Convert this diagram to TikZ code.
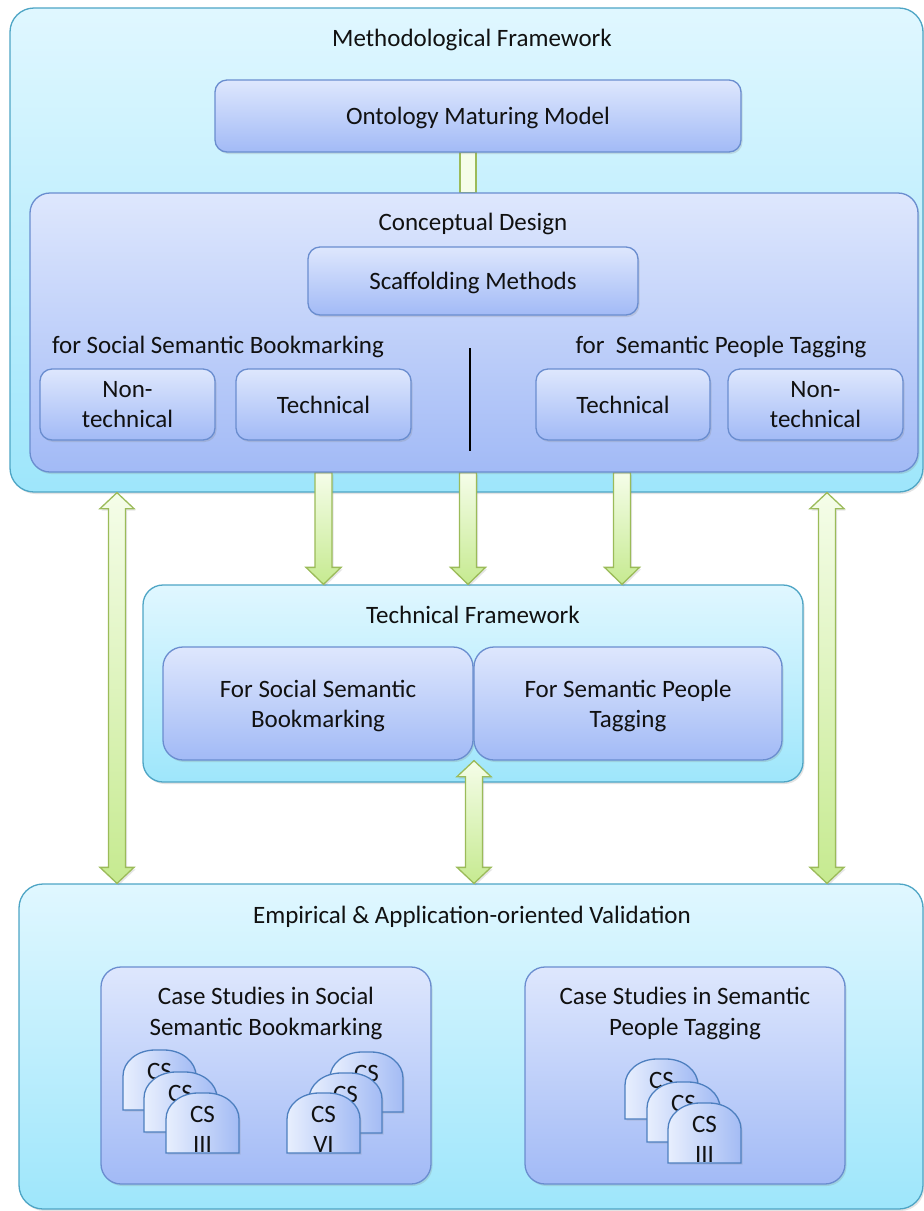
\documentclass[tikz,border=0pt]{standalone}
\usepackage{fontspec}
\setmainfont{Carlito}
\usetikzlibrary{calc,shadows}

\definecolor{cyanTop}{HTML}{E0F7FF}
\definecolor{cyanBot}{HTML}{9EE6FB}
\definecolor{cyanLine}{HTML}{4EA5C5}
\definecolor{blueTop}{HTML}{DEE7FD}
\definecolor{blueBot}{HTML}{A2BAF6}
\definecolor{blueLine}{HTML}{6A8DCF}
\definecolor{tombLeft}{HTML}{E8EFFE}
\definecolor{tombRight}{HTML}{A3BBF4}
\definecolor{tombLine}{HTML}{4D7FBF}
\definecolor{greenTop}{HTML}{F5FDE9}
\definecolor{greenBot}{HTML}{C6EA90}
\definecolor{greenLine}{HTML}{9BBB59}
\definecolor{txt}{HTML}{111111}

\pgfdeclarelayer{bottom}
\pgfdeclarelayer{mid}
\pgfsetlayers{bottom,mid,main}

\newcommand\mainfs{\fontsize{25pt}{30.5pt}\selectfont}

\tikzset{
  base/.style={rectangle, inner sep=0pt, line width=1.3pt, align=center,
    drop shadow={opacity=0.22, shadow xshift=1.5pt, shadow yshift=-2pt}},
  cyanbox/.style={base, draw=cyanLine, top color=cyanTop, bottom color=cyanBot,
    rounded corners=#1},
  cyanbox/.default=24pt,
  bluebox/.style={base, draw=blueLine, top color=blueTop, bottom color=blueBot,
    rounded corners=#1},
  bluebox/.default=12pt,
  title/.style={inner sep=0pt, align=center},
  cstext/.style={inner sep=0pt},
  tombshape/.style={draw=tombLine, line width=1.3pt, left color=tombLeft,
    right color=tombRight,
    drop shadow={opacity=0.2, shadow xshift=1.5pt, shadow yshift=-1.5pt}},
  fatarrow/.style={draw=greenLine, line width=1.3pt, top color=greenTop,
    bottom color=greenBot, line join=miter,
    drop shadow={opacity=0.2, shadow xshift=1.5pt, shadow yshift=-2pt}},
  linkbar/.style={draw=greenLine, line width=1.3pt, fill=greenTop},
}

% single arrow pointing down from #1 to #2
\newcommand\fatdown[2]{%
  \path[fatarrow] let \p1=(#1), \p2=(#2) in
    (\x1-8.5pt,\y1) -- (\x1+8.5pt,\y1) -- (\x1+8.5pt,\y2+17pt)
    -- (\x1+17.5pt,\y2+17pt) -- (\x1,\y2) -- (\x1-17.5pt,\y2+17pt)
    -- (\x1-8.5pt,\y2+17pt) -- cycle;}

% double-headed vertical arrow between #1 (top) and #2 (bottom)
\newcommand\fatboth[2]{%
  \path[fatarrow] let \p1=(#1), \p2=(#2) in
    (\x1,\y1) -- (\x1+17pt,\y1-16pt) -- (\x1+8.5pt,\y1-16pt)
    -- (\x1+8.5pt,\y2+16pt) -- (\x1+17pt,\y2+16pt) -- (\x1,\y2)
    -- (\x1-17pt,\y2+16pt) -- (\x1-8.5pt,\y2+16pt)
    -- (\x1-8.5pt,\y1-16pt) -- (\x1-17pt,\y1-16pt) -- cycle;}

% case-study tombstone: #1,#2 top-left corner, #3 name, #4 and #5 the two lines
\newcommand\tomb[5]{%
  \path[tombshape] (#1,#2+60) -- (#1,#2+26)
    .. controls (#1,#2+11.6) and (#1+14.3,#2) .. (#1+32,#2) -- (#1+41,#2)
    .. controls (#1+58.7,#2) and (#1+73,#2+11.6) .. (#1+73,#2+26)
    -- (#1+73,#2+60) -- cycle;
  \node[cstext] (#3) at (#1+36.5,#2+21) {#4};
  \node[cstext] (#3b) at (#1+36.5,#2+51) {#5};}

\begin{document}
\begin{tikzpicture}[x=1pt,y=-1pt,every node/.append style={font=\mainfs,text=txt}]
\useasboundingbox (0,0) rectangle (924,1211);

% large frames
\begin{pgfonlayer}{bottom}
  \fill[white] (0,0) rectangle (924,1211);
  \node[cyanbox, minimum width=913pt, minimum height=484pt] (mf) at (466.5,250) {};
  \node[cyanbox=20pt, minimum width=660pt, minimum height=197pt] (tf) at (473,683.5) {};
  \node[cyanbox, minimum width=904pt, minimum height=325pt] (ev) at (471,1046.5) {};
\end{pgfonlayer}

% methodological framework
\node[title] (mft) at (472,40) {Methodological Framework};
\node[bluebox, minimum width=526pt, minimum height=72pt] (omm) at (478,116) {};
\node[title] (ommt) at ([yshift=-2pt]omm.center) {Ontology Maturing Model};
\node[bluebox=20pt, minimum width=888pt, minimum height=279pt] (cd) at (474,332.5) {};
\node[title] (cdt) at (473,224) {Conceptual Design};
\node[bluebox, minimum width=330pt, minimum height=68pt] (sm) at (473,281) {};
\node[title] (smt) at ([yshift=-2pt]sm.center) {Scaffolding Methods};
\node[title] (lsb) at (218,347) {for Social Semantic Bookmarking};
\node[title] (lpt) at (721,347) {for~~Semantic People Tagging};
\node[bluebox, minimum width=175pt, minimum height=71pt] (nt1) at (127.5,404.5) {Non-\\technical};
\node[bluebox, minimum width=175pt, minimum height=71pt] (t1) at (323.5,404.5) {Technical};
\node[bluebox, minimum width=174pt, minimum height=71pt] (t2) at (623,404.5) {Technical};
\node[bluebox, minimum width=175pt, minimum height=71pt] (nt2) at (815.5,404.5) {Non-\\technical};
\coordinate (sepa) at (470,348);
\coordinate (sepb) at (470,451);
\draw[line width=2.4pt, black] (sepa) -- (sepb);

% technical framework
\node[title] (tft) at (473,614.5) {Technical Framework};
\node[bluebox=20pt, minimum width=310pt, minimum height=113pt] (fb1) at (318,703.5) {};
\node[title] (fb1t) at ([yshift=-2.5pt]fb1.center) {For Social Semantic\\Bookmarking};
\node[bluebox=20pt, minimum width=308pt, minimum height=113pt] (fb2) at (628,703.5) {};
\node[title] (fb2t) at ([yshift=-2.5pt]fb2.center) {For Semantic People\\Tagging};

% validation
\node[title] (evt) at (472,917) {Empirical \& Application-oriented Validation};
\node[bluebox=20pt, minimum width=330pt, minimum height=217pt] (cs1) at (266,1075.5) {};
\node[title] (cs1t) at (266,1013.5) {Case Studies in Social\\Semantic Bookmarking};
\node[bluebox=20pt, minimum width=320pt, minimum height=217pt] (cs2) at (685,1075.5) {};
\node[title] (cs2t) at (685,1013.5) {Case Studies in Semantic\\People Tagging};

\tomb{123}{1050}{ta1}{CS}{}
\tomb{144}{1072}{ta2}{CS}{}
\tomb{166}{1093}{ta3}{CS}{III}
\tomb{330}{1052}{tb1}{CS}{}
\tomb{309}{1073}{tb2}{CS}{}
\tomb{287}{1093}{tb3}{CS}{VI}
\tomb{625}{1059}{tc1}{CS}{}
\tomb{647}{1082}{tc2}{CS}{}
\tomb{668}{1103}{tc3}{CS}{III}

% connectors
\begin{pgfonlayer}{mid}
  \path[linkbar] (460,0 |- omm.south) rectangle (476,0 |- cd.north);
  \fatdown{323.5,0 |- cd.south}{323.5,0 |- tf.north}
  \fatdown{468,0 |- cd.south}{468,0 |- tf.north}
  \fatdown{622,0 |- cd.south}{622,0 |- tf.north}
  \fatboth{117,0 |- mf.south}{117,0 |- ev.north}
  \fatboth{827,0 |- mf.south}{827,0 |- ev.north}
  \fatboth{474,0 |- fb1.south}{474,0 |- ev.north}
\end{pgfonlayer}
\end{tikzpicture}
\end{document}
